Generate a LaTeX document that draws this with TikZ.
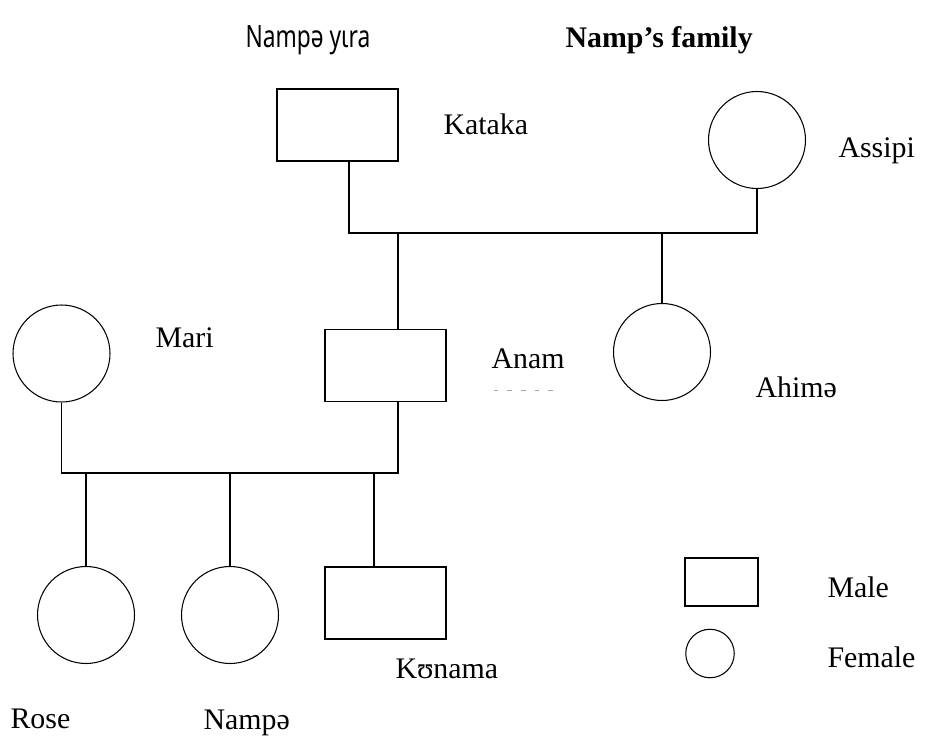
\documentclass[tikz,border=0pt]{standalone}
\usepackage{fontspec}
\setmainfont{Liberation Serif}
\newfontfamily\titlesans[FakeStretch=0.74]{Noto Sans}
\usetikzlibrary{positioning,calc}

\begin{document}
\begin{tikzpicture}[x=0.02cm, y=-0.02cm, line width=0.6pt,
    male/.style={draw, minimum width=2.42cm, minimum height=1.44cm, inner sep=0pt},
    female/.style={draw, circle, minimum size=1.94cm, inner sep=0pt},
    who/.style={anchor=base west, inner sep=0pt, font=\fontsize{17}{20}\selectfont}]
    \useasboundingbox (0,0) rectangle (935,740);

    % Title
    \node[who, font=\titlesans\fontsize{17.5}{20}\selectfont] (title) at (245,48) {Nampə yɩra};
    \node[who, font=\fontsize{17}{20}\selectfont\bfseries] (titleen) at (565,48) {Namp’s family};

    % Grandparents
    \node[male] (kataka) at (337.5,125) {};
    \node[who] (kataka-l) at (443,134) {Kataka};
    \node[female] (assipi) at (757,140) {};
    \node[who] (assipi-l) at (838,157) {Assipi};

    % Parents
    \node[female] (mari) at (61.5,353.5) {};
    \node[who] (mari-l) at (155,347) {Mari};
    \node[male] (anam) at (385.5,365.5) {};
    \node[who] (anam-l) at (491,368) {Anam};
    \draw[line width=0.4pt, gray!70, dash pattern=on 2.6pt off 5.2pt]
        ([xshift=1.5pt,yshift=-13pt]anam-l.base west) -- ([xshift=-5pt,yshift=-13pt]anam-l.base east);
    \node[female] (ahime) at (662,352) {};
    \node[who] (ahime-l) at (755,397) {Ahimə};

    % Children
    \node[female] (rose) at (86,615) {};
    \node[who] (rose-l) at (10,728) {Rose};
    \node[female] (nampe) at (230,615) {};
    \node[who] (nampe-l) at (203,729) {Nampə};
    \node[male] (kunama) at (385.5,603) {};
    \node[who] (kunama-l) at (395,678) {Kʊnama};

    % Links
    \coordinate (top) at (349,233);
    \coordinate (topdrop) at (398,233);
    \coordinate (low) at (398,473);
    \coordinate (lowdrop) at (374,473);
    \draw (top |- kataka.south) -- (top) -| (assipi.south);
    \draw (topdrop) -- (topdrop |- anam.north);
    \draw (ahime.north |- top) -- (ahime.north);
    \draw (mari.south) |- (low) -- (low |- anam.south);
    \draw (rose.north |- low) -- (rose.north);
    \draw (nampe.north |- low) -- (nampe.north);
    \draw (lowdrop) -- (lowdrop |- kunama.north);

    % Key
    \node[draw, minimum width=1.46cm, minimum height=0.96cm, inner sep=0pt] (male) at (721.5,582) {};
    \node[who] (male-l) at (827,597) {Male};
    \node[draw, circle, minimum size=0.97cm, inner sep=0pt] (female) at (710,653.5) {};
    \node[who] (female-l) at (827,667) {Female};
\end{tikzpicture}
\end{document}
